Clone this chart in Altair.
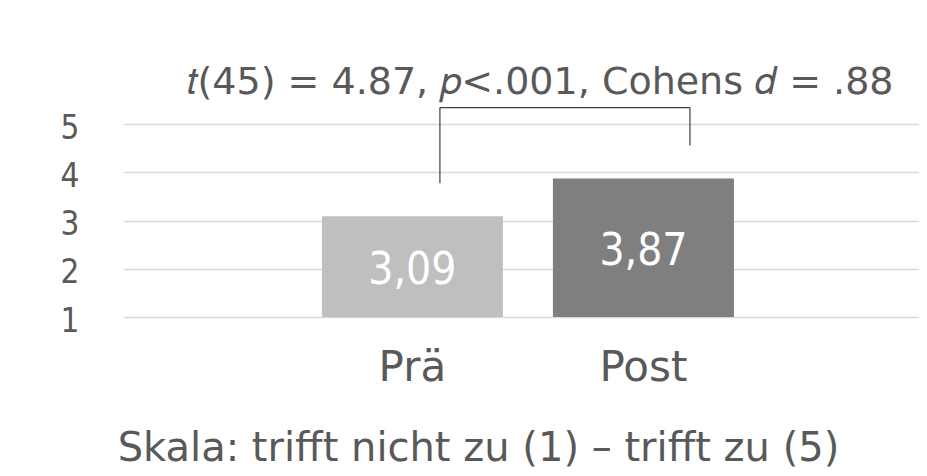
import altair as alt
import pandas as pd

# --- data ---
categories = ["Prä", "Post"]
means = [3.09, 3.87]
mean_labels = ["3,09", "3,87"]
bar_colors = ["#BFBFBF", "#7F7F7F"]
y_ticks = [1, 2, 3, 4, 5]
stat_text = "𝑡(45) = 4.87, 𝑝<.001, Cohens 𝑑 = .88"
scale_text = "Skala: trifft nicht zu (1) – trifft zu (5)"

# bracket (in data units)
bracket_top = 5.34
bracket_left_bottom = 3.77
bracket_right_bottom = 4.555

COND = "DejaVu Sans Condensed, DejaVu Sans, sans-serif"
REG = "DejaVu Sans, sans-serif"
TXT = "#595959"

df = pd.DataFrame({"cat": categories, "mean": means, "label": mean_labels,
                   "color": bar_colors})
df["mid"] = (df["mean"] + 1) / 2
df["base"] = 1

xscale = alt.Scale(domain=categories, paddingInner=0.2165, paddingOuter=0.831, align=0.518)
yscale = alt.Scale(domain=[1, 5], zero=False, nice=False)

x_axis = alt.Axis(title=scale_text, labelFont=REG, labelFontSize=42, labelColor=TXT,
                  labelPadding=30, domain=False, ticks=False, labelAngle=0,
                  titleFont=REG, titleFontSize=40, titleColor=TXT, titleFontWeight="normal",
                  titleX=355, titleY=143, titleBaseline="alphabetic", titleAnchor="middle",
                  titleAlign="center")
y_axis = alt.Axis(values=y_ticks, title=None, labelFont=COND, labelFontSize=33,
                  labelColor=TXT, labelPadding=44, labelOffset=4, domain=False, ticks=False,
                  gridColor="#D9D9D9", gridWidth=1.5)

bars = alt.Chart(df).mark_bar().encode(
    x=alt.X("cat:N", scale=xscale, axis=x_axis, sort=categories),
    y=alt.Y("mean:Q", scale=yscale, axis=y_axis),
    y2="base:Q",
    color=alt.Color("color:N", scale=None),
)

labels = alt.Chart(df).mark_text(font=COND, fontSize=44, color="white", baseline="middle",
                                 dy=4).encode(
    x=alt.X("cat:N", sort=categories),
    y="mid:Q",
    text="label:N",
)

br = pd.DataFrame({"a": ["Prä"], "b": ["Post"], "top": [bracket_top],
                   "lb": [bracket_left_bottom], "rb": [bracket_right_bottom]})
left_v = alt.Chart(br).mark_rule(color="#404040", strokeWidth=1.2).encode(
    x=alt.X("a:N", bandPosition=0.652), y="lb:Q", y2="top:Q")
right_v = alt.Chart(br).mark_rule(color="#404040", strokeWidth=1.2).encode(
    x=alt.X("b:N", bandPosition=0.757), y="rb:Q", y2="top:Q")
top_h = alt.Chart(br).mark_rule(color="#404040", strokeWidth=1.2).encode(
    x=alt.X("a:N", bandPosition=0.652), x2=alt.X2("b:N", bandPosition=0.757), y="top:Q")

stat = alt.Chart(pd.DataFrame({"t": [stat_text], "y": [5.63]})).mark_text(
    font=REG, fontSize=38, color=TXT, baseline="alphabetic", align="center"
).encode(x=alt.value(417), y="y:Q", text="t:N")

chart = alt.layer(bars, labels, left_v, right_v, top_h, stat).properties(
    width=796, height=193,
    padding={"left": 115, "right": 0, "top": 116, "bottom": 151},
    autosize=alt.AutoSizeParams(type="none"),
).configure_view(stroke=None)

chart.save("out.html", embed_options={"renderer": "svg", "actions": False})
